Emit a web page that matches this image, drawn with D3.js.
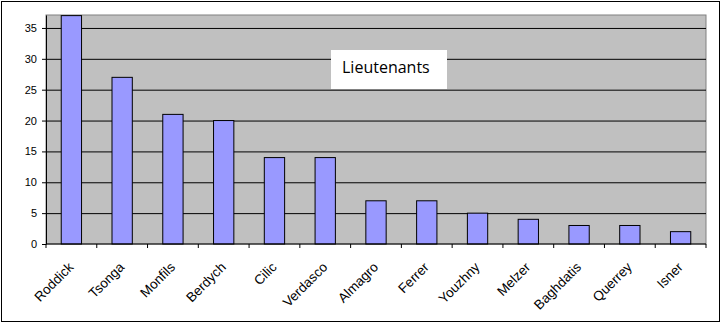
<!DOCTYPE html>
<html>
<head>
<meta charset="utf-8">
<script src="https://cdn.jsdelivr.net/npm/d3@7"></script>
<style>
  body { margin: 0; background: #fff; }
  svg { display: block; }
</style>
</head>
<body>
<svg id="chart" width="721" height="325"></svg>
<script>
const players = ["Roddick", "Tsonga", "Monfils", "Berdych", "Cilic", "Verdasco", "Almagro",
  "Ferrer", "Youzhny", "Melzer", "Baghdatis", "Querrey", "Isner"];
const counts = [37, 27, 21, 20, 14, 14, 7, 7, 5, 4, 3, 3, 2];
const yTicks = [0, 5, 10, 15, 20, 25, 30, 35];
const title = "Lieutenants";

const svg = d3.select("#chart");
const margin = { top: 15, right: 15, bottom: 81, left: 46 };
const chartWidth = 721 - margin.left - margin.right;
const chartHeight = 325 - margin.top - margin.bottom;

// outer frame
svg.append("rect")
  .attr("x", 1.5).attr("y", 1.5)
  .attr("width", 718).attr("height", 320)
  .attr("fill", "#fff").attr("stroke", "#000").attr("stroke-width", 1);

const chartArea = svg.append("g")
  .attr("transform", `translate(${margin.left},${margin.top})`);

const xScale = d3.scaleBand().domain(players).range([0, chartWidth]).paddingInner(0).paddingOuter(0);
const yScale = d3.scaleLinear().domain([0, 37.1]).range([chartHeight, 0]);

chartArea.append("rect")
  .attr("width", chartWidth).attr("height", chartHeight)
  .attr("fill", "#c0c0c0").attr("stroke", "#808080");

// gridlines
chartArea.append("g")
  .call(d3.axisLeft(yScale).tickValues(yTicks.slice(1)).tickSize(-chartWidth).tickFormat(""))
  .call(g => g.select(".domain").remove())
  .call(g => g.selectAll("line").attr("stroke", "#000"));

// bars
const barW = xScale.bandwidth() * 0.4;
chartArea.selectAll("rect.bar")
  .data(players)
  .join("rect")
  .attr("class", "bar")
  .attr("x", (d) => xScale(d) + (xScale.bandwidth() - barW) / 2)
  .attr("y", (d, i) => yScale(counts[i]))
  .attr("width", barW)
  .attr("height", (d, i) => chartHeight - yScale(counts[i]))
  .attr("fill", "#9999ff")
  .attr("stroke", "#000")
  .attr("stroke-width", 1);

// y axis
chartArea.append("g")
  .call(d3.axisLeft(yScale).tickValues(yTicks).tickSize(4).tickSizeOuter(0).tickPadding(5))
  .call(g => g.selectAll("text").style("font-family", "Liberation Sans, Arial").style("font-size", "11px").attr("fill", "#000"))
  .call(g => g.selectAll("path, line").attr("stroke", "#000"));

// x axis: ticks at category boundaries
const xAxisG = chartArea.append("g")
  .attr("transform", `translate(0,${chartHeight})`);
xAxisG.append("line")
  .attr("x1", 0).attr("x2", chartWidth)
  .attr("stroke", "#000");
xAxisG.selectAll("line.tick")
  .data(players.concat(["_end"]))
  .join("line")
  .attr("class", "tick")
  .attr("x1", (d, i) => i * xScale.step())
  .attr("x2", (d, i) => i * xScale.step())
  .attr("y1", 0).attr("y2", 4)
  .attr("stroke", "#000");
xAxisG.selectAll("text")
  .data(players)
  .join("text")
  .attr("transform", (d) => `translate(${xScale(d) + xScale.bandwidth() / 2 + 3},${24}) rotate(-45)`)
  .attr("text-anchor", "end")
  .style("font-family", "Liberation Sans, Arial")
  .style("font-size", "13.5px")
  .text((d) => d);

// title box
svg.append("rect")
  .attr("x", 331).attr("y", 50)
  .attr("width", 116).attr("height", 39)
  .attr("fill", "#fff");
svg.append("text")
  .attr("x", 342).attr("y", 73)
  .style("font-family", "Open Sans, Liberation Sans")
  .style("font-size", "16px")
  .text(title);
</script>
</body>
</html>
